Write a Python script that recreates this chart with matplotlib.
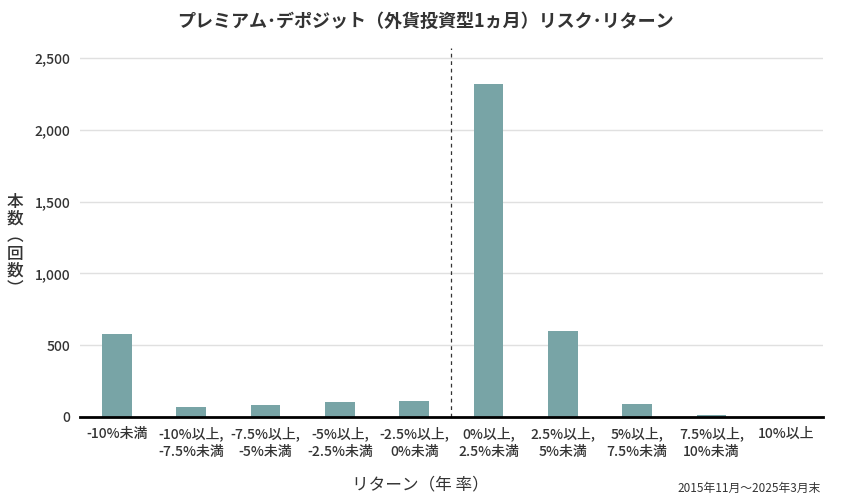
import matplotlib.pyplot as plt
import numpy as np

plt.rcParams['font.family'] = ['Noto Sans CJK JP', 'DejaVu Sans']

# data
categories = ['-10%未満', '-10%以上,\n-7.5%未満', '-7.5%以上,\n-5%未満', '-5%以上,\n-2.5%未満',
              '-2.5%以上,\n0%未満', '0%以上,\n2.5%未満', '2.5%以上,\n5%未満', '5%以上,\n7.5%未満',
              '7.5%以上,\n10%未満', '10%以上']
counts = [575, 70, 85, 105, 112, 2320, 600, 90, 14, 0]
yticks = [0, 500, 1000, 1500, 2000, 2500]

fig = plt.figure(figsize=(8.5, 5), dpi=100)
ax = fig.add_axes([0.094, 0.166, 0.874, 0.738])

x = np.arange(len(categories))
ax.bar(x, counts, width=0.4, color='#78a4a6', zorder=3)
ax.set_xlim(-0.5, len(categories) - 0.5)
ax.set_ylim(0, 2570)

# dashed divider between negative and positive returns
ax.axvline(4.5, color='#333333', linestyle=(0, (3, 3)), linewidth=0.9, zorder=4)

ax.set_yticks(yticks)
ax.set_yticklabels([f'{v:,}' for v in yticks], fontsize=10, color='#333333', fontweight='medium')
ax.set_xticks(x)
ax.set_xticklabels(categories, fontsize=10, color='#333333', linespacing=1.3, fontweight='medium')
ax.tick_params(axis='both', length=0, pad=7)
ax.grid(axis='y', color='#e0e0e0', linewidth=1, zorder=0)

for s in ['top', 'right', 'left']:
    ax.spines[s].set_visible(False)
ax.spines['bottom'].set_color('black')
ax.spines['bottom'].set_linewidth(2)
ax.spines['bottom'].set_zorder(5)

fig.text(0.5, 0.957, 'プレミアム･デポジット（外貨投資型1ヵ月）リスク･リターン',
         ha='center', va='center', fontsize=13, fontweight='bold', color='#333333')
fig.text(0.494, 0.03, 'リターン（年 率）', ha='center', va='center', fontsize=12, color='#333333')
fig.text(0.965, 0.024, '2015年11月〜2025年3月末', ha='right', va='center', fontsize=8.5, color='#333333')
fig.text(0.018, 0.51, '本\n数\n︵\n回\n数\n︶', ha='center', va='center', fontsize=12,
         color='#333333', linespacing=0.95, fontweight='medium')

plt.savefig('out.png', dpi=100)
